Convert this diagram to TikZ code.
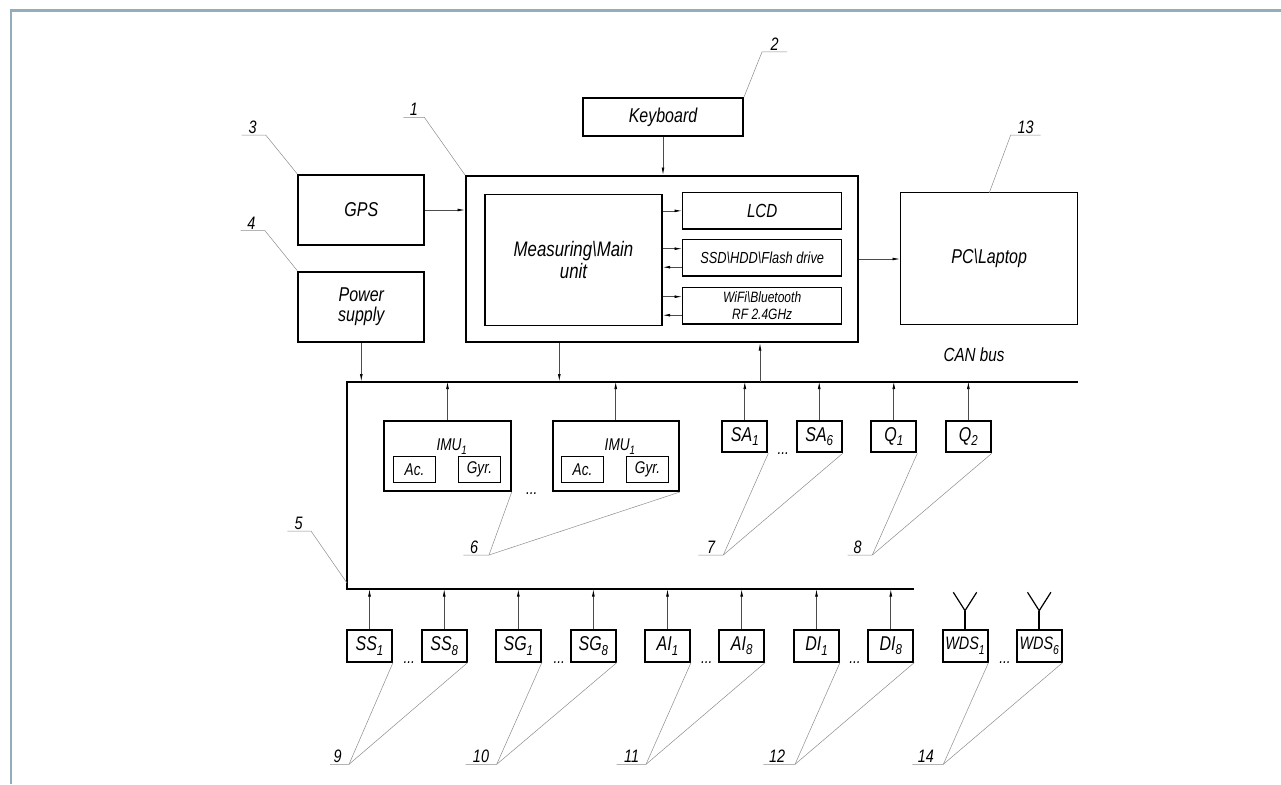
\documentclass[tikz,border=0pt]{standalone}
\usepackage{fontspec}
\setmainfont{Liberation Sans}[FakeStretch=0.8]
\usetikzlibrary{arrows.meta}
\definecolor{framec}{HTML}{92ADBC}
\newcommand\myidx[1]{\raisebox{-0.45ex}{\scalebox{0.72}{#1}}}
\newcommand\fs[2]{\itshape\fontsize{#1}{#2}\selectfont}
\begin{document}
\begin{tikzpicture}[x=1pt,y=-1pt,font=\itshape,
  tbox/.style 2 args={draw,line width=2pt,inner sep=0pt,minimum width=#1,minimum height=#2},
  mbox/.style 2 args={draw,line width=1.3pt,inner sep=0pt,minimum width=#1,minimum height=#2},
  sbox/.style 2 args={draw,line width=1pt,inner sep=0pt,minimum width=#1,minimum height=#2},
  arr/.style={draw=black!70,line width=0.7pt,-{Latex[length=7.5pt,width=2.8pt,black]}},
  lead/.style={draw=black!45,line width=0.5pt},
  num/.style={anchor=south,inner sep=1.5pt,font=\fs{18}{18}},
  dots/.style={anchor=base,inner sep=0pt,font=\fs{17}{17}},
  small/.style={tbox={45pt}{31.6pt},font=\fs{20}{20}}
]
\useasboundingbox (0,0) rectangle (1281,784);
% frame
\draw[draw=framec,line width=2.5pt] (1281,10.5) -- (11,10.5) -- (11,784);

% top blocks
\node[tbox={160pt}{38pt},font=\fs{20}{21}] (kb) at (663,117) {Keyboard};
\node[tbox={392pt}{166pt}] (main) at (662,259) {};
\node[mbox={177pt}{131pt},font=\fs{21}{21.5},align=center] (meas) at (573.5,260) {Measuring\textbackslash Main\\unit};
\node[mbox={159pt}{36.3pt},font=\fs{19}{20}] (lcd) at (762.2,210.85) {LCD};
\node[mbox={159pt}{36.7pt},font=\fs{16}{17}] (ssd) at (762.2,257.7) {SSD\textbackslash HDD\textbackslash Flash drive};
\node[mbox={159pt}{36.7pt},font=\fs{15}{16.5},align=center] (wifi) at (762.2,305.7) {WiFi\textbackslash Bluetooth\\RF 2.4GHz};
\node[tbox={126pt}{70pt},font=\fs{20}{21}] (gps) at (361.3,210) {GPS};
\node[tbox={126pt}{70.6pt},font=\fs{20}{20},align=center] (power) at (361.3,307) {Power\\supply};
\node[mbox={177pt}{131.6pt},font=\fs{20}{20}] (pc) at (989.2,258.5) {PC\textbackslash Laptop};

% bus
\coordinate (busTR) at (1078,381.5);
\coordinate (busTL) at (347,381.5);
\coordinate (busBL) at (347,589);
\coordinate (busBR) at (913.5,589);
\draw[line width=2pt] (busTR) -- (busTL) -- (busBL) -- (busBR);
\node[font=\fs{19}{19}] (can) at (974,355) {CAN bus};

% IMU blocks
\node[tbox={126.4pt}{70.3pt}] (imu1) at (447.5,455.85) {};
\node[anchor=base,inner sep=0pt,font=\fs{17}{17}] (imu1t) at (451.7,450.5) {IMU\myidx{1}};
\node[sbox={42.4pt}{25.3pt},font=\fs{17}{17}] (ac1) at (414.5,469.35) {Ac.};
\node[sbox={42.4pt}{25.3pt},font=\fs{17}{17}] (gyr1) at (479.5,469.35) {Gyr.};
\node[tbox={126.4pt}{70.3pt}] (imu2) at (615.7,455.85) {};
\node[anchor=base,inner sep=0pt,font=\fs{17}{17}] (imu2t) at (619.9,450.5) {IMU\myidx{1}};
\node[sbox={42.4pt}{25.3pt},font=\fs{17}{17}] (ac2) at (582.5,469.35) {Ac.};
\node[sbox={42.4pt}{25.3pt},font=\fs{17}{17}] (gyr2) at (647.5,469.35) {Gyr.};
\node[dots] (dimu) at (531.7,494) {...};

% SA, Q
\node[small] (sa1) at (744.8,436.5) {SA\myidx{1}};
\node[small] (sa6) at (819.2,436.5) {SA\myidx{6}};
\node[small] (q1) at (893.8,436.5) {Q\myidx{1}};
\node[small] (q2) at (968.35,436.5) {Q\myidx{2}};
\node[dots] (dsa) at (783.3,454) {...};

% bottom row
\node[small] (ss1) at (369.5,645.75) {SS\myidx{1}};
\node[small] (ss8) at (444.2,645.75) {SS\myidx{8}};
\node[small] (sg1) at (518.35,645.75) {SG\myidx{1}};
\node[small] (sg8) at (593.35,645.75) {SG\myidx{8}};
\node[small] (ai1) at (667.5,645.75) {AI\myidx{1}};
\node[small] (ai8) at (741.65,645.75) {AI\myidx{8}};
\node[small] (di1) at (816.5,645.75) {DI\myidx{1}};
\node[small] (di8) at (890.8,645.75) {DI\myidx{8}};
\node[small,font=\fs{18}{18}] (wds1) at (965,645.75) {WDS\myidx{1}};
\node[small,font=\fs{18}{18}] (wds6) at (1039.2,645.75) {WDS\myidx{6}};
\node[dots] (d1) at (409.3,663.5) {...};
\node[dots] (d2) at (559.3,663.5) {...};
\node[dots] (d3) at (706.7,663.5) {...};
\node[dots] (d4) at (855,663.5) {...};
\node[dots] (d5) at (1005,663.5) {...};

% antennas
\foreach \w in {wds1,wds6}{
  \draw[line width=1.6pt] (\w.north) -- ++(0,-18.3) coordinate (\w k);
  \draw[line width=1.2pt] ([xshift=-11.7pt,yshift=18.4pt]\w k) -- (\w k) -- ([xshift=11.7pt,yshift=18.4pt]\w k);
}

% connectors
\draw[arr] (kb.south) -- (kb.south |- main.north);
\draw[arr] (gps.east) -- (gps.east -| main.west);
\draw[arr] (lcd.west -| meas.east) -- (lcd.west);
\draw[arr] ([yshift=9pt]ssd.west -| meas.east) -- ([yshift=9pt]ssd.west);
\draw[arr] ([yshift=-9.5pt]ssd.west) -- ([yshift=-9.5pt]ssd.west -| meas.east);
\draw[arr] ([yshift=9pt]wifi.west -| meas.east) -- ([yshift=9pt]wifi.west);
\draw[arr] ([yshift=-9.5pt]wifi.west) -- ([yshift=-9.5pt]wifi.west -| meas.east);
\draw[arr] (main.east) -- (main.east -| pc.west);
\draw[arr] (power.south) -- (power.south |- busTL);
\draw[arr] ([xshift=-102.7pt]main.south) -- ([xshift=-102.7pt]main.south |- busTL);
\draw[arr] ([xshift=98pt]main.south |- busTL) -- ([xshift=98pt]main.south);
\foreach \n in {imu1,imu2,sa1,sa6,q1,q2}{
  \draw[arr] (\n.north) -- (\n.north |- busTL);
}
\foreach \n in {ss1,ss8,sg1,sg8,ai1,ai8,di1,di8}{
  \draw[arr] (\n.north) -- (\n.north |- busBL);
}

% reference numbers and leaders
\node[num] (n1) at (413.8,117.3) {1};
\draw[lead] (403.3,117.3) -- (424.3,117.3) coordinate (k1) -- (main.north west);
\node[num] (n2) at (774.5,52) {2};
\draw[lead] (787,52) -- (762,52) coordinate (k2) -- (kb.north east);
\node[num] (n3) at (252.5,135) {3};
\draw[lead] (241.7,135) -- (265.7,135) coordinate (k3) -- (gps.north west);
\node[num] (n4) at (251.5,230.7) {4};
\draw[lead] (240.7,230.7) -- (265,230.7) coordinate (k4) -- (power.north west);
\node[num] (n5) at (298.5,531) {5};
\draw[lead] (287.3,531) -- (311,531) coordinate (k5) -- ([yshift=6pt]busBL);
\node[num] (n13) at (1025.5,135) {13};
\draw[lead] (1040.7,135) -- (1010.7,135) coordinate (k13) -- (989.3,192.7);
\node[num] (n6) at (474,555) {6};
\draw[lead] (463.3,555) -- (489,555) coordinate (k6) -- (imu1.south east);
\draw[lead] (k6) -- (imu2.south east);
\node[num] (n7) at (711,555) {7};
\draw[lead] (698.3,555) -- (723.3,555) coordinate (k7) -- (sa1.south east);
\draw[lead] (k7) -- (sa6.south east);
\node[num] (n8) at (857.5,555) {8};
\draw[lead] (847.7,555) -- (872.3,555) coordinate (k8) -- (q1.south east);
\draw[lead] (k8) -- (q2.south east);
\node[num] (n9) at (337.5,764.3) {9};
\draw[lead] (330,764.3) -- (349,764.3) coordinate (k9) -- (ss1.south east);
\draw[lead] (k9) -- (ss8.south east);
\node[num] (n10) at (481,764.3) {10};
\draw[lead] (465.7,764.3) -- (496.7,764.3) coordinate (k10) -- (sg1.south east);
\draw[lead] (k10) -- (sg8.south east);
\node[num] (n11) at (631.7,764.3) {11};
\draw[lead] (616.7,764.3) -- (646,764.3) coordinate (k11) -- (ai1.south east);
\draw[lead] (k11) -- (ai8.south east);
\node[num] (n12) at (777,764.3) {12};
\draw[lead] (763.3,764.3) -- (795,764.3) coordinate (k12) -- (di1.south east);
\draw[lead] (k12) -- (di8.south east);
\node[num] (n14) at (925.8,764.3) {14};
\draw[lead] (912.3,764.3) -- (943.3,764.3) coordinate (k14) -- (wds1.south east);
\draw[lead] (k14) -- (wds6.south east);
\end{tikzpicture}
\end{document}
